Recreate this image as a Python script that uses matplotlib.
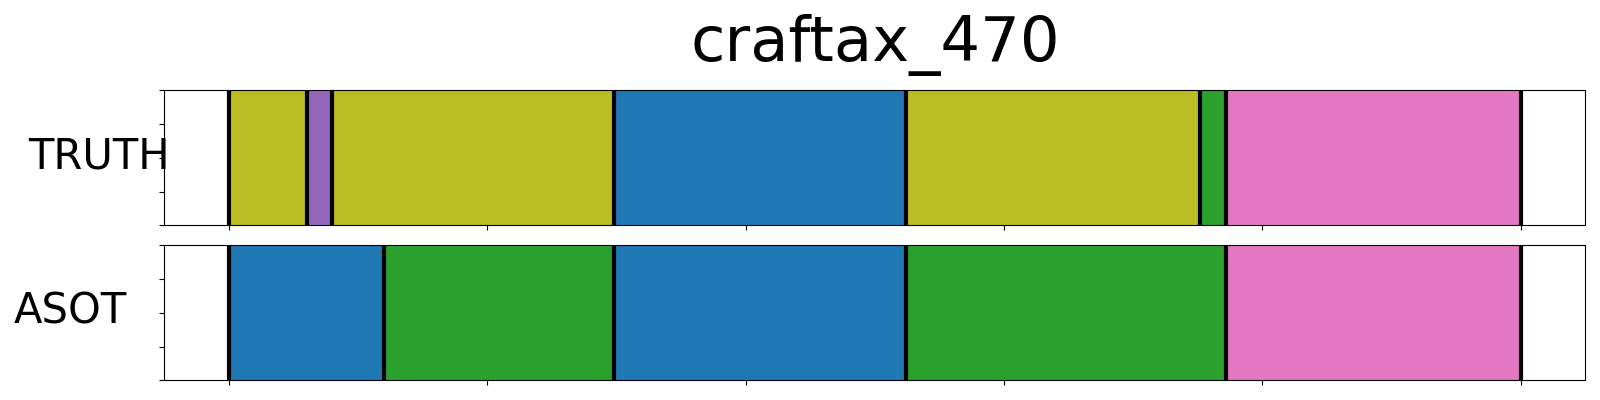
import matplotlib
matplotlib.use("Agg")
import matplotlib.pyplot as plt

title = "craftax_470"
row_names = ["TRUTH", "ASOT"]
total_len = 500

truth_bounds = [0, 30, 40, 149, 262, 376, 386, 500]
truth_colors = ["tab:olive", "tab:purple", "tab:olive", "tab:blue", "tab:olive", "tab:green", "tab:pink"]

asot_bounds = [0, 60, 149, 262, 386, 500]
asot_colors = ["tab:blue", "tab:green", "tab:blue", "tab:green", "tab:pink"]

xticks = [0, 100, 200, 300, 400, 500]
yticks = [0, 0.25, 0.5, 0.75, 1.0]

fig = plt.figure(figsize=(16, 4), dpi=100)
ax1 = fig.add_axes([0.1028, 0.43675, 0.888, 0.3375])
ax2 = fig.add_axes([0.1028, 0.04925, 0.888, 0.3375])

label_x = [-0.0461, -0.0662]

for i, (ax, bounds, colors) in enumerate(zip([ax1, ax2], [truth_bounds, asot_bounds], [truth_colors, asot_colors])):
    for s, e, c in zip(bounds[:-1], bounds[1:], colors):
        ax.axvspan(s, e, color=c, lw=0)
    for b in bounds:
        ax.axvline(b, color="black", lw=3)
    ax.set_xlim(-25, 525)
    ax.set_ylim(0, 1)
    ax.set_xticks(xticks)
    ax.set_xticklabels([])
    ax.set_yticks(yticks)
    ax.set_yticklabels([])
    ax.set_ylabel(row_names[i], rotation=0, fontsize=30, ha="center", va="baseline")
    ax.yaxis.set_label_coords(label_x[i], 0.42)

ax1.set_title(title, fontsize=45, pad=21)

fig.savefig("out.png", dpi=100)
